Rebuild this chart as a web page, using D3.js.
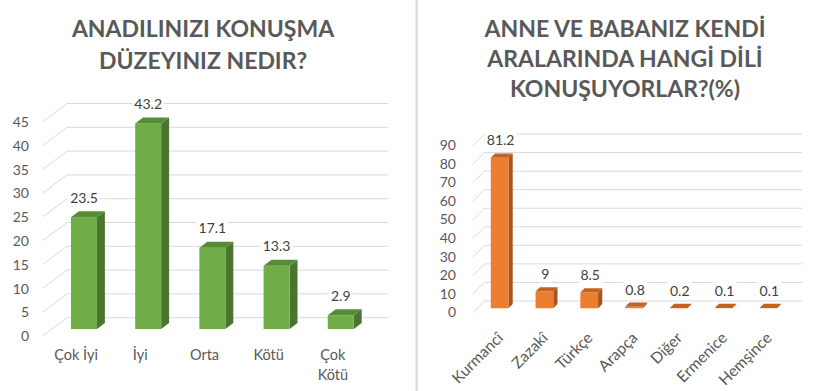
<!DOCTYPE html>
<html><head><meta charset="utf-8">
<script src="https://cdn.jsdelivr.net/npm/d3@7"></script>
<style>
body{margin:0;background:#fff;}
svg{display:block;font-family:Lato,"Open Sans",sans-serif;}
</style></head><body>
<svg id="c" width="823" height="391"></svg>
<script>
// ---- data ----
const levelCategories = ["Çok İyi", "İyi", "Orta", "Kötü", "Çok Kötü"];
const levelValues = [23.5, 43.2, 17.1, 13.3, 2.9];
const levelTicks = [0, 5, 10, 15, 20, 25, 30, 35, 40, 45];
const levelTitle = ["ANADILINIZI KONUŞMA", "DÜZEYINIZ NEDIR?"];

const langCategories = ["Kurmancî", "Zazakî", "Türkçe", "Arapça", "Diğer", "Ermenice", "Hemşince"];
const langValues = [81.2, 9, 8.5, 0.8, 0.2, 0.1, 0.1];
const langTicks = [0, 10, 20, 30, 40, 50, 60, 70, 80, 90];
const langTitle = ["ANNE VE BABANIZ KENDİ", "ARALARINDA HANGİ DİLİ", "KONUŞUYORLAR?(%)"];

const svg = d3.select("#c");
const TXT = "#595959", GRID = "#D9D9D9";

// divider
svg.append("rect").attr("x", 415.5).attr("y", 0).attr("width", 2.5).attr("height", 391).attr("fill", "#DCDCDC");

function chart(o) {
  const g = svg.append("g");
  const x = d3.scaleBand().domain(o.cats).range(o.xRange);
  const y = d3.scaleLinear().domain([0, o.max]).range([o.y0, o.y0 - o.max * o.pxPerUnit]);
  const D = o.depth; // [dx, dy] front relative to back (z=0 front, z=1 back)
  const off = z => [D[0] * (1 - z), D[1] * (1 - z)];

  // title
  g.append("g").selectAll("text").data(o.title).join("text")
    .attr("x", o.titleX).attr("y", (d, i) => o.titleY + i * o.titleStep)
    .attr("text-anchor", "middle").attr("fill", TXT)
    .attr("font-weight", "bold").attr("font-size", o.titleSize).text(d => d);

  // gridlines: back wall + side wall diagonals
  const grid = g.append("g").attr("stroke", GRID).attr("stroke-width", 1).attr("fill", "none");
  o.ticks.forEach(t => {
    const yy = y(t);
    grid.append("path").attr("d", `M${o.xRange[0] + D[0]},${yy + D[1]}L${o.xRange[0]},${yy}L${o.gridRight},${yy}`);
  });
  // tick labels
  g.append("g").selectAll("text").data(o.ticks).join("text")
    .attr("x", o.tickX).attr("y", t => y(t) + D[1] + o.tickDy)
    .attr("text-anchor", "end").attr("dominant-baseline", "middle")
    .attr("fill", TXT).attr("font-size", o.fontSize).text(t => t);

  // bars
  const [zf, zb] = o.barZ;
  const f = off(zf), b = off(zb);
  const bars = g.append("g").selectAll("g").data(o.cats.map((c, i) => ({c, v: o.vals[i]}))).join("g");
  bars.each(function(d) {
    const s = d3.select(this);
    const cx = x(d.c) + x.bandwidth() / 2;
    const xl = cx - o.barW / 2 + f[0], xr = cx + o.barW / 2 + f[0];
    const yb = y(0) + f[1], yt = y(d.v) + f[1];
    const ddx = b[0] - f[0], ddy = b[1] - f[1];
    s.append("path").attr("fill", o.cSide)
      .attr("d", `M${xr},${yb}L${xr + ddx},${yb + ddy}L${xr + ddx},${yt + ddy}L${xr},${yt}Z`);
    s.append("rect").attr("fill", o.cFront).attr("x", xl).attr("y", yt).attr("width", o.barW).attr("height", Math.max(0, yb - yt));
    s.append("path").attr("fill", o.cTop)
      .attr("d", `M${xl},${yt}L${xr},${yt}L${xr + ddx},${yt + ddy}L${xl + ddx},${yt + ddy}Z`);
    const lx = cx + f[0] + o.lblDx, ly = y(d.v) + o.lblDy;
    const t = s.append("text").attr("x", lx).attr("y", ly)
      .attr("text-anchor", "middle").attr("dominant-baseline", "middle")
      .attr("fill", "#404040").attr("font-size", o.lblSize).text(d.v);
    const bb = t.node().getBBox();
    s.insert("rect", "text").attr("x", bb.x - 2).attr("y", bb.y).attr("width", bb.width + 4).attr("height", bb.height).attr("fill", "#fff");
  });

  // category labels
  const cl = g.append("g").selectAll("text").data(o.cats).join("text")
    .attr("fill", TXT).attr("font-size", o.catSize);
  if (o.rotate) {
    cl.attr("text-anchor", "end")
      .attr("transform", c => `translate(${x(c) + x.bandwidth() / 2 + D[0] + o.catDx},${o.catY}) rotate(-45)`)
      .attr("dy", "0.35em").text(c => c);
  } else {
    cl.attr("text-anchor", "middle").each(function(c) {
      const lines = (c === "Çok Kötü") ? c.split(" ") : [c];
      const s = d3.select(this);
      lines.forEach((w, i) => s.append("tspan")
        .attr("x", x(c) + x.bandwidth() / 2 + D[0] + o.catDx)
        .attr("y", o.catY + i * o.catStep).attr("dominant-baseline", "middle").text(w));
    });
  }
}

chart({
  cats: levelCategories, vals: levelValues, ticks: levelTicks, title: levelTitle,
  titleX: 203, titleY: 37, titleStep: 32, titleSize: 23,
  xRange: [67, 388], gridRight: 388, max: 45, y0: 317.7, pxPerUnit: 4.76,
  depth: [-24, 18], barZ: [0.37, 0.70], barW: 26,
  tickX: 29, tickDy: 2, fontSize: 14, catSize: 14.5,
  cFront: "#70AD47", cSide: "#4A7530", cTop: "#578C37",
  lblDx: 0, lblDy: -6.5, lblSize: 14,
  catY: 356.7, catStep: 20, catDx: 1, rotate: false
});

chart({
  cats: langCategories, vals: langValues, ticks: langTicks, title: langTitle,
  titleX: 625, titleY: 37, titleStep: 30, titleSize: 23,
  xRange: [484.5, 798], gridRight: 802, max: 90, y0: 301, pxPerUnit: 1.855,
  depth: [-11.7, 11.7], barZ: [0.38, 0.74], barW: 17.7,
  tickX: 456, tickDy: 1, fontSize: 14, catSize: 15.5,
  cFront: "#ED7D31", cSide: "#A5561E", cTop: "#C4621F",
  lblDx: 1, lblDy: -8.5, lblSize: 14,
  catY: 335, catDx: 5, rotate: true
});
</script>
</body></html>
